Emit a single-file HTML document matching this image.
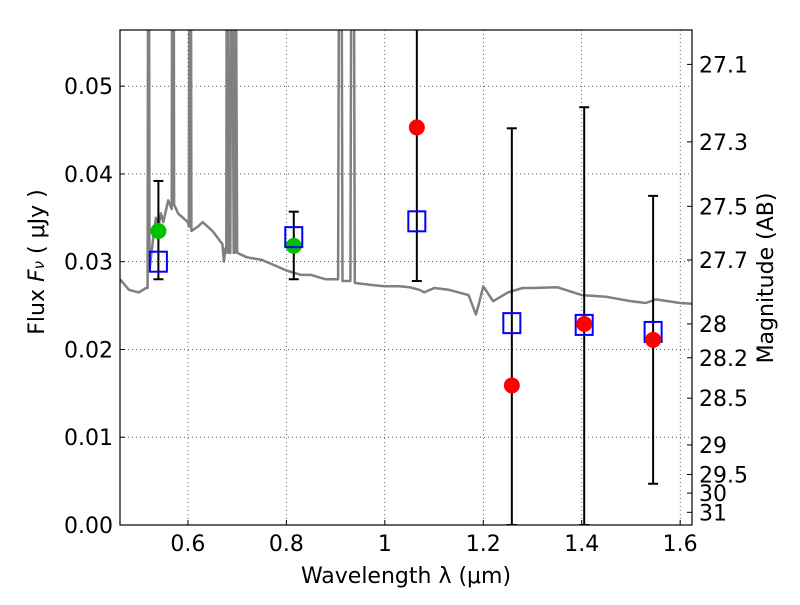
<!DOCTYPE html>
<html><head><meta charset="utf-8"><style>
body{margin:0;background:#fff;}
svg text{font-family:"DejaVu Sans","Liberation Sans",sans-serif;}
</style></head><body>
<svg id="chart" width="800" height="600" viewBox="0 0 800 600">
<defs><clipPath id="clip"><rect x="120" y="30" width="572" height="495"/></clipPath></defs>
<rect x="0" y="0" width="800" height="600" fill="#fff"/>
<g id="grid"></g>
<g id="spec" clip-path="url(#clip)"></g>
<g id="marks" clip-path="url(#clip)"></g>
<rect x="120" y="30" width="572" height="495" fill="none" stroke="#000" stroke-width="1.2"/>
<g id="axes"></g>
<text x="406" y="583" font-size="22" text-anchor="middle">Wavelength  λ (μm)</text>
<text transform="translate(44,262) rotate(-90)" font-size="22" text-anchor="middle">Flux  <tspan font-style="italic">F</tspan><tspan font-size="15" font-style="italic">ν</tspan>  ( μJy )</text>
<text transform="translate(773,278) rotate(-90)" font-size="22" text-anchor="middle">Magnitude (AB)</text>
</svg>
<script>
const xTicks=[0.6,0.8,1.0,1.2,1.4,1.6];
const xTickLabels=["0.6","0.8","1","1.2","1.4","1.6"];
const yTicks=[0,0.01,0.02,0.03,0.04,0.05];
const yTickLabels=["0.00","0.01","0.02","0.03","0.04","0.05"];
const magTicks=[27.1,27.3,27.5,27.7,28,28.2,28.5,29,29.5,30,31];
const magLabels=["27.1","27.3","27.5","27.7","28","28.2","28.5","29","29.5","30","31"];
const greenX=[0.54,0.815];
const greenY=[0.0335,0.0318];
const squareX=[0.54,0.815,1.065,1.258,1.405,1.545];
const squareY=[0.030,0.0328,0.0346,0.0230,0.0228,0.0220];
const redX=[1.065,1.258,1.405,1.545];
const redY=[0.0453,0.0159,0.0229,0.0211];
const errX=[0.54,0.815,1.065,1.258,1.405,1.545];
const errLo=[0.028,0.028,0.0278,0,0,0.0047];
const errHi=[0.0392,0.0357,0.065,0.0452,0.0476,0.0375];
const specX=[0.462,0.48,0.50,0.515,0.518,0.519,0.521,0.522,0.53,0.535,0.54,0.545,0.55,0.56,0.567,0.568,0.571,0.572,0.58,0.59,0.60,0.602,0.603,0.606,0.607,0.62,0.63,0.65,0.67,0.673,0.676,0.678,0.679,0.681,0.683,0.686,0.688,0.69,0.693,0.695,0.697,0.70,0.72,0.75,0.78,0.80,0.83,0.85,0.88,0.90,0.905,0.907,0.912,0.914,0.93,0.932,0.937,0.939,0.95,0.98,1.0,1.03,1.05,1.07,1.08,1.1,1.13,1.15,1.17,1.185,1.19,1.2,1.22,1.25,1.28,1.3,1.35,1.4,1.45,1.5,1.53,1.55,1.6,1.624];
const specY=[0.028,0.0268,0.0265,0.027,0.027,0.07,0.07,0.029,0.033,0.035,0.034,0.0355,0.0345,0.037,0.036,0.07,0.07,0.0365,0.0355,0.035,0.0345,0.034,0.07,0.07,0.0335,0.034,0.0345,0.0335,0.032,0.030,0.0315,0.031,0.07,0.07,0.031,0.031,0.07,0.07,0.031,0.031,0.07,0.031,0.0305,0.0302,0.0295,0.029,0.0285,0.0285,0.028,0.028,0.028,0.07,0.07,0.0278,0.0278,0.07,0.07,0.0276,0.0275,0.0273,0.0272,0.0272,0.0271,0.0268,0.0265,0.027,0.0268,0.0265,0.0262,0.024,0.025,0.0272,0.0255,0.0265,0.027,0.027,0.0271,0.0262,0.026,0.0255,0.0253,0.0257,0.0253,0.0252];
const NS="http://www.w3.org/2000/svg";
const X0=0.462,X1=1.624,Y0=0,Y1=0.0564,L=120,R=692,T=30,B=525;
function sx(v){return L+(v-X0)/(X1-X0)*(R-L);}
function sy(v){return B-(v-Y0)/(Y1-Y0)*(B-T);}
function mk(tag,attrs,parent){const e=document.createElementNS(NS,tag);for(const k in attrs)e.setAttribute(k,attrs[k]);parent.appendChild(e);return e;}
const grid=document.getElementById('grid'),axes=document.getElementById('axes'),spec=document.getElementById('spec'),marks=document.getElementById('marks');
xTicks.forEach((v,i)=>{const x=sx(v);
 let g=mk('line',{x1:x,x2:x,y1:T,y2:B,stroke:'#000','stroke-width':0.6,'stroke-dasharray':'1,3'},grid);
 
 
 mk('line',{x1:x,x2:x,y1:B,y2:B-5,stroke:'#000'},axes);
 let t=mk('text',{x:x,y:B+26,'font-size':22,'text-anchor':'middle'},axes);t.textContent=xTickLabels[i];
 
 });
yTicks.forEach((v,i)=>{const y=sy(v);
 let g=mk('line',{x1:L,x2:R,y1:y,y2:y,stroke:'#000','stroke-width':0.6,'stroke-dasharray':'1,3'},grid);
 
 
 mk('line',{x1:L,x2:L+5,y1:y,y2:y,stroke:'#000'},axes);
 let t=mk('text',{x:L-7,y:y+8,'font-size':22,'text-anchor':'end'},axes);t.textContent=yTickLabels[i];
 
 });
magTicks.forEach((m,i)=>{const f=Math.pow(10,(23.9-m)/2.5);const y=sy(f);
 mk('line',{x1:R,x2:R-5,y1:y,y2:y,stroke:'#000'},axes);
 let t=mk('text',{x:R+7,y:y+8,'font-size':22,'text-anchor':'start'},axes);t.textContent=magLabels[i];
 
 });
let pts=specX.map((x,i)=>sx(x).toFixed(1)+','+sy(specY[i]).toFixed(1)).join(' ');
let pl=mk('polyline',{points:pts,fill:'none',stroke:'#808080','stroke-width':2.5,'stroke-linejoin':'round'},spec);


errX.forEach((v,i)=>{const x=sx(v),y1=sy(errLo[i]),y2=sy(errHi[i]);
 let l=mk('line',{x1:x,x2:x,y1:y1,y2:y2,stroke:'#000','stroke-width':2},marks);
 
 
 mk('line',{x1:x-5,x2:x+5,y1:y1,y2:y1,stroke:'#000','stroke-width':2},marks);
 mk('line',{x1:x-5,x2:x+5,y1:y2,y2:y2,stroke:'#000','stroke-width':2},marks);});
greenX.forEach((v,i)=>{let c=mk('circle',{cx:sx(v),cy:sy(greenY[i]),r:8,fill:'#00c000'},marks);
 
 });
squareX.forEach((v,i)=>{let r=mk('rect',{x:sx(v)-8.5,y:sy(squareY[i])-10,width:17,height:20,fill:'none',stroke:'#0000ff','stroke-width':2},marks);
 
 });
redX.forEach((v,i)=>{let c=mk('circle',{cx:sx(v),cy:sy(redY[i]),r:8,fill:'#ff0000'},marks);
 
 });
</script>
</body></html>
